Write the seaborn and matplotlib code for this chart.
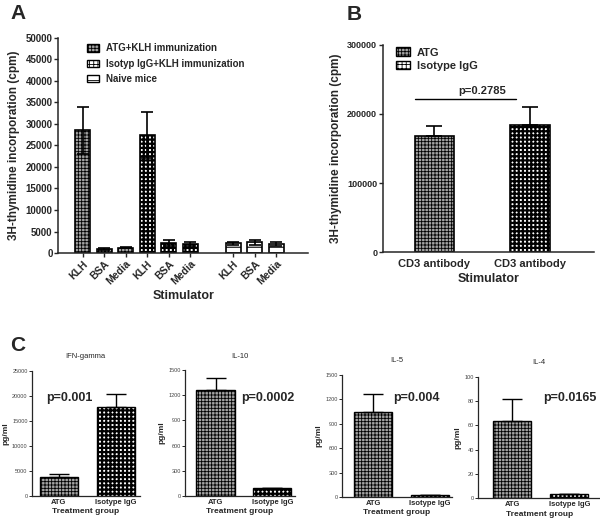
import numpy as np
import pandas as pd
import matplotlib
matplotlib.use("Agg")
import matplotlib.pyplot as plt
import seaborn as sns
from matplotlib.patches import Patch

sns.set_style("ticks")
plt.rcParams['font.family'] = ['Liberation Sans', 'DejaVu Sans']
plt.rcParams['hatch.linewidth'] = 0.6

# --- Panel A data ---
stimuli = ['KLH', 'BSA', 'Media']
groups_a = ['ATG+KLH immunization', 'Isotyp IgG+KLH immunization', 'Naive mice']
atg_klh_mean = [28500, 1000, 1300]
atg_klh_sem = [5500, 300, 150]
iso_klh_mean = [27400, 2400, 2100]
iso_klh_sem = [5300, 700, 400]
naive_mean = [2300, 2500, 2100]
naive_sem = [400, 600, 500]

# --- Panel B data ---
groups_b = ['ATG', 'Isotype IgG']
b_labels = ['CD3 antibody', 'CD3 antibody']
b_mean = [168700, 184700]
b_sem = [14000, 25000]
b_pvalue = 'p=0.2785'

# --- Panel C data ---
cytokines = ['IFN-gamma', 'IL-10', 'IL-5', 'IL-4']
treatments = ['ATG', 'Isotype IgG']
c_atg_mean = [3870, 1262, 1041, 63.8]
c_atg_sem = [530, 143, 225, 18]
c_iso_mean = [17660, 92, 25, 3.5]
c_iso_sem = [2740, 0, 0, 0]
c_pvalues = ['p=0.001', 'p=0.0002', 'p=0.004', 'p=0.0165']
c_ymax = [25000, 1500, 1500, 100]
c_ystep = [5000, 300, 300, 20]

# bar styles: (facecolor, hatch, hatch linewidth)
style_atg = ('#a3a3a3', '+++++', 0.6)
style_iso = ('white', '++++', 1.6)
style_naive = ('white', '---', 0.8)

fig = plt.figure(figsize=(6, 5.22), dpi=100)


def apply_style(p, style):
    fc, hatch, hlw = style
    p.set_facecolor(fc)
    p.set_hatch(hatch)
    if hasattr(p, 'set_hatch_linewidth'):
        p.set_hatch_linewidth(hlw)


def legend_handle(label, style):
    h = Patch(edgecolor='black', label=label)
    apply_style(h, style)
    return h


def draw_bars(ax, df, order, style_map, width, two_sided=False, lw=1.2, cap=4):
    sns.barplot(data=df, x='slot', y='mean', order=order, color='white',
                edgecolor='black', linewidth=lw, width=width, errorbar=None,
                ax=ax, zorder=2)
    for p in ax.patches:
        idx = int(round(p.get_x() + p.get_width() / 2))
        grp = df.loc[df['slot'] == order[idx], 'group'].iloc[0]
        apply_style(p, style_map[grp])
    xs = [order.index(s) for s in df['slot']]
    lower = df['sem'] if two_sided else np.zeros(len(df))
    ax.errorbar(xs, df['mean'], yerr=[lower, df['sem']], fmt='none',
                ecolor='black', elinewidth=lw, capsize=cap, capthick=lw, zorder=3)


# ---------------- Panel A ----------------
rows = []
for g, means, sems in zip(groups_a, [atg_klh_mean, iso_klh_mean, naive_mean],
                          [atg_klh_sem, iso_klh_sem, naive_sem]):
    for s, m, e in zip(stimuli, means, sems):
        rows.append({'slot': g + ' ' + s, 'stim': s, 'group': g, 'mean': m, 'sem': e})
df_a = pd.DataFrame(rows)
order_a = list(df_a['slot'][:6]) + ['gap'] + list(df_a['slot'][6:])
styles_a = [style_atg, style_iso, style_naive]
smap_a = dict(zip(groups_a, styles_a))

axA = fig.add_axes([0.097, 0.515, 0.417, 0.413])
draw_bars(axA, df_a, order_a, smap_a, width=0.7, two_sided=True)
axA.set_xlim(-1.14, 10.5)
axA.set_ylim(0, 50000)
axA.set_yticks(np.arange(0, 50001, 5000))
ticks_a = [order_a.index(s) for s in df_a['slot']]
axA.set_xticks(ticks_a)
axA.set_xticklabels(df_a['stim'], rotation=45, ha='right', rotation_mode='anchor',
                    fontsize=7.5, fontweight='bold')
for t in axA.get_yticklabels():
    t.set_fontsize(7)
    t.set_fontweight('bold')
axA.set_ylabel('3H-thymidine incorporation (cpm)', fontsize=8.5, fontweight='bold')
axA.set_xlabel('Stimulator', fontsize=9, fontweight='bold', labelpad=2)
axA.tick_params(length=3, width=1, pad=1)
handles_a = [legend_handle(g, s) for g, s in zip(groups_a, styles_a)]
axA.legend(handles=handles_a, loc='upper left', bbox_to_anchor=(0.09, 1.0), frameon=False,
           prop={'size': 7, 'weight': 'bold'}, handlelength=1.3, handleheight=0.8,
           labelspacing=0.55, handletextpad=0.7, borderaxespad=0.2)
for sp in ['left', 'bottom']:
    axA.spines[sp].set_linewidth(1.1)
sns.despine(ax=axA)

# ---------------- Panel B ----------------
df_b = pd.DataFrame({'slot': groups_b, 'group': groups_b, 'mean': b_mean, 'sem': b_sem})
styles_b = [style_atg, style_iso]
axB = fig.add_axes([0.638, 0.517, 0.352, 0.397])
draw_bars(axB, df_b, groups_b, dict(zip(groups_b, styles_b)), width=0.41, cap=6)
axB.set_xlim(-0.54, 1.67)
axB.set_ylim(0, 300000)
axB.set_yticks([0, 100000, 200000, 300000])
axB.set_xticks(range(len(b_labels)))
axB.set_xticklabels(b_labels, fontsize=8, fontweight='bold')
for t in axB.get_yticklabels():
    t.set_fontsize(6.5)
    t.set_fontweight('bold')
axB.set_ylabel('3H-thymidine incorporation (cpm)', fontsize=8.5, fontweight='bold')
axB.set_xlabel('Stimulator', fontsize=9, fontweight='bold', labelpad=3)
axB.tick_params(length=3, width=1, pad=1)
axB.tick_params(axis='x', length=0, pad=5)
pline = max(np.array(b_mean) + np.array(b_sem)) * 1.06
axB.plot([-0.2, 0.85], [pline, pline], color='black', lw=1)
axB.text(0.5, pline + 4000, b_pvalue, ha='center', va='bottom', fontsize=8, fontweight='bold')
handles_b = [legend_handle(g, s) for g, s in zip(groups_b, styles_b)]
axB.legend(handles=handles_b, loc='upper left', bbox_to_anchor=(0.03, 1.02), frameon=False,
           prop={'size': 8, 'weight': 'bold'}, handlelength=1.3, handleheight=0.8,
           labelspacing=0.3, handletextpad=0.6, borderaxespad=0.2)
for sp in ['left', 'bottom']:
    axB.spines[sp].set_linewidth(1.1)
sns.despine(ax=axB)

# ---------------- Panel C ----------------
c_boxes = [
    [0.053, 0.050, 0.180, 0.240],
    [0.308, 0.050, 0.183, 0.241],
    [0.570, 0.048, 0.183, 0.234],
    [0.797, 0.046, 0.203, 0.232],
]
c_xlims = [(-0.47, 1.42), (-0.54, 1.39), (-0.55, 1.38), (-0.6, 1.54)]
c_ptext_x = [0.56, 1.0, 0.89, 0.975]
for i, name in enumerate(cytokines):
    box = c_boxes[i]
    ax = fig.add_axes(box)
    df_c = pd.DataFrame({'slot': treatments, 'group': treatments,
                         'mean': [c_atg_mean[i], c_iso_mean[i]],
                         'sem': [c_atg_sem[i], c_iso_sem[i]]})
    draw_bars(ax, df_c, treatments, dict(zip(treatments, styles_b)),
              width=0.67, lw=1.0, cap=7)
    ax.set_xlim(*c_xlims[i])
    ax.set_ylim(0, c_ymax[i])
    ax.set_yticks(np.arange(0, c_ymax[i] + 1, c_ystep[i]))
    ax.set_xticks(range(len(treatments)))
    ax.set_xticklabels(treatments, fontsize=5.5, fontweight='bold')
    for t in ax.get_yticklabels():
        t.set_fontsize(4)
        t.set_color('#444444')
    ax.tick_params(length=2, width=0.7, pad=1)
    ax.tick_params(axis='x', length=0, pad=2)
    ax.set_title(name, fontsize=5.5, pad=9)
    ax.set_ylabel('pg/ml', fontsize=6, fontweight='bold', labelpad=2)
    ax.set_xlabel('Treatment group', fontsize=6, fontweight='bold', labelpad=2)
    fig.text(box[0] + c_ptext_x[i] * box[2], 0.237, c_pvalues[i], ha='right',
             va='center', fontsize=9, fontweight='bold')
    for sp in ['left', 'bottom']:
        ax.spines[sp].set_linewidth(0.9)
    sns.despine(ax=ax)

fig.text(0.017, 0.975, 'A', fontsize=15, fontweight='bold', va='center')
fig.text(0.578, 0.973, 'B', fontsize=15, fontweight='bold', va='center')
fig.text(0.017, 0.338, 'C', fontsize=15, fontweight='bold', va='center')

fig.savefig('out.png', dpi=100, facecolor='white')
